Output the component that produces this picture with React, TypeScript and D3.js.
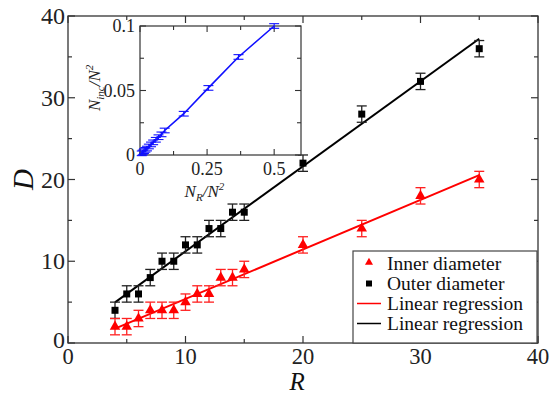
import React from "react";
import * as d3 from "d3";

const radii = [4, 5, 6, 7, 8, 9, 10, 11, 12, 13, 14, 15, 20, 25, 30, 35];
const outerD = [4, 6, 6, 8, 10, 10, 12, 12, 14, 14, 16, 16, 22, 28, 32, 36];
const innerD = [2, 2, 3, 4, 4, 4, 5, 6, 6, 8, 8, 9, 12, 14, 18, 20];
const errD = 1;

const insetX = [0.0065, 0.0102, 0.0147, 0.02, 0.026, 0.033, 0.041, 0.049, 0.059, 0.069, 0.08, 0.092, 0.163, 0.255, 0.367, 0.5];
const insetY = [0.0013, 0.002, 0.003, 0.004, 0.005, 0.0066, 0.0082, 0.0098, 0.0118, 0.0138, 0.016, 0.019, 0.032, 0.052, 0.076, 0.1];
const insetErr = 0.0018;

const xTicks = [0, 10, 20, 30, 40];
const yTicks = [0, 10, 20, 30, 40];
const insetXTicks = [0, 0.25, 0.5];
const insetYTicks = [0, 0.05, 0.1];

const legendItems = ["Inner diameter", "Outer diameter", "Linear regression", "Linear regression"];

const font = '"Liberation Serif", "DejaVu Serif", serif';
const tf = { fontFamily: font, fontStyle: "normal", fontWeight: 400 };
const tfi = { fontFamily: font, fontStyle: "italic" };

function regress(xs: number[], ys: number[]) {
  const mx = d3.mean(xs)!;
  const my = d3.mean(ys)!;
  const sxy = d3.sum(xs, (x, i) => (x - mx) * (ys[i] - my));
  const sxx = d3.sum(xs, (x) => (x - mx) ** 2);
  const slope = sxy / sxx;
  return { slope, intercept: my - slope * mx };
}

export default function App() {
  const x = d3.scaleLinear().domain([0, 40]).range([68, 538]);
  const y = d3.scaleLinear().domain([0, 40]).range([343, 16]);
  const ix = d3.scaleLinear().domain([0, 0.6]).range([140, 301]);
  const iy = d3.scaleLinear().domain([0, 0.1]).range([155, 26]);

  const fits = [
    { ys: innerD, color: "#ff0000" },
    { ys: outerD, color: "#000000" },
  ].map((s) => {
    const r = regress(radii, s.ys);
    const x0 = d3.min(radii)!;
    const x1 = d3.max(radii)!;
    return { ...s, x0, x1, y0: r.intercept + r.slope * x0, y1: r.intercept + r.slope * x1 };
  });

  const minorX = d3.range(0, 41, 5);
  const minorY = d3.range(0, 41, 5);
  const inMinorX = d3.range(0, 0.61, 0.125);
  const inMinorY = d3.range(0, 0.101, 0.025);

  const cap = 5;
  const tri = d3.symbol(d3.symbolTriangle, 48)()!;
  const insetLine = d3
    .line<number>()
    .x((d) => ix(d))
    .y((_, i) => iy(insetY[i]));

  const [x0px, x1px] = x.range();
  const [y0px, y1px] = y.range();

  return (
    <svg width={559} height={394} style={{ position: "absolute", left: 0, top: 0, fontFamily: font }}>
      <rect width={559} height={394} fill="#fff" />
      {/* frame */}
      <rect x={x0px} y={y1px} width={x1px - x0px} height={y0px - y1px} fill="none" stroke="#333" strokeWidth={1.3} />
      {minorX.map((t) => {
        const len = t % 10 === 0 ? 7 : 4;
        return (
          <g key={"mx" + t} stroke="#333" strokeWidth={1.2}>
            <line x1={x(t)} x2={x(t)} y1={y0px} y2={y0px - len} />
            <line x1={x(t)} x2={x(t)} y1={y1px} y2={y1px + len} />
          </g>
        );
      })}
      {minorY.map((t) => {
        const len = t % 10 === 0 ? 7 : 4;
        return (
          <g key={"my" + t} stroke="#333" strokeWidth={1.2}>
            <line x1={x0px} x2={x0px + len} y1={y(t)} y2={y(t)} />
            <line x1={x1px} x2={x1px - len} y1={y(t)} y2={y(t)} />
          </g>
        );
      })}
      {xTicks.map((t) => (
        <text key={"xt" + t} x={x(t)} y={364} fontSize={22.5} textAnchor="middle" fill="#222" style={tf}>
          {t}
        </text>
      ))}
      {yTicks.map((t) => (
        <text key={"yt" + t} x={65} y={y(t) + (t === 0 ? 5 : 8)} fontSize={24} textAnchor="end" fill="#222" style={tf}>
          {t}
        </text>
      ))}
      <text x={x(19.5)} y={389.5} fontSize={25} textAnchor="middle" fill="#111" style={tfi}>
        R
      </text>
      <text transform={`translate(33,${y(20)}) rotate(-90)`} fontSize={29} textAnchor="middle" fill="#111" style={tfi}>
        D
      </text>

      {/* regression lines */}
      {fits.map((f, i) => (
        <line key={"fit" + i} x1={x(f.x0)} y1={y(f.y0)} x2={x(f.x1)} y2={y(f.y1)} stroke={f.color} strokeWidth={2} />
      ))}

      {/* error bars and markers */}
      {radii.map((r, i) => (
        <g key={"o" + r} stroke="#222" strokeWidth={1.3}>
          <line x1={x(r)} x2={x(r)} y1={y(outerD[i] - errD)} y2={y(outerD[i] + errD)} />
          <line x1={x(r) - cap} x2={x(r) + cap} y1={y(outerD[i] - errD)} y2={y(outerD[i] - errD)} />
          <line x1={x(r) - cap} x2={x(r) + cap} y1={y(outerD[i] + errD)} y2={y(outerD[i] + errD)} />
          <rect x={x(r) - 3.5} y={y(outerD[i]) - 3.5} width={7} height={7} fill="#000" stroke="none" />
        </g>
      ))}
      {radii.map((r, i) => (
        <g key={"in" + r} stroke="#ff2020" strokeWidth={1.3}>
          <line x1={x(r)} x2={x(r)} y1={y(innerD[i] - errD)} y2={y(innerD[i] + errD)} />
          <line x1={x(r) - cap} x2={x(r) + cap} y1={y(innerD[i] - errD)} y2={y(innerD[i] - errD)} />
          <line x1={x(r) - cap} x2={x(r) + cap} y1={y(innerD[i] + errD)} y2={y(innerD[i] + errD)} />
          <path d={tri} transform={`translate(${x(r)},${y(innerD[i])})`} fill="#ff0000" stroke="none" />
        </g>
      ))}

      {/* inset */}
      <rect x={140} y={26} width={161} height={129} fill="#fff" stroke="#333" strokeWidth={1.2} />
      {inMinorX.map((t, k) => {
        const len = k % 2 === 0 ? 6 : 4;
        return (
          <g key={"imx" + k} stroke="#333" strokeWidth={1.1}>
            <line x1={ix(t)} x2={ix(t)} y1={155} y2={155 - len} />
            <line x1={ix(t)} x2={ix(t)} y1={26} y2={26 + len} />
          </g>
        );
      })}
      {inMinorY.map((t, k) => {
        const len = k % 2 === 0 ? 6 : 4;
        return (
          <g key={"imy" + k} stroke="#333" strokeWidth={1.1}>
            <line x1={140} x2={140 + len} y1={iy(t)} y2={iy(t)} />
            <line x1={301} x2={301 - len} y1={iy(t)} y2={iy(t)} />
          </g>
        );
      })}
      {insetXTicks.map((t) => (
        <text key={"ixt" + t} x={ix(t)} y={175} fontSize={18} textAnchor="middle" fill="#222" style={tf}>
          {t}
        </text>
      ))}
      {insetYTicks.map((t) => (
        <text key={"iyt" + t} x={135} y={iy(t) + 6} fontSize={18} textAnchor="end" fill="#222" style={tf}>
          {t}
        </text>
      ))}
      <text x={ix(0.24)} y={197} fontSize={17} textAnchor="middle" fill="#222" style={tfi}>
        N<tspan fontSize={11} dy={4}>R</tspan>
        <tspan dy={-4}>/N</tspan>
        <tspan fontSize={11} dy={-7}>2</tspan>
      </text>
      <text transform={`translate(100,${iy(0.052)}) rotate(-90)`} fontSize={17} textAnchor="middle" fill="#222" style={tfi}>
        N<tspan fontSize={11} dy={4}>inc</tspan>
        <tspan dy={-4}>/N</tspan>
        <tspan fontSize={11} dy={-7}>2</tspan>
      </text>
      <path d={insetLine(insetX)!} fill="none" stroke="#1010ff" strokeWidth={1.6} />
      {insetX.map((v, i) => (
        <g key={"ie" + i} stroke="#1010ff" strokeWidth={1.1}>
          <line x1={ix(v)} x2={ix(v)} y1={iy(insetY[i] - insetErr)} y2={iy(insetY[i] + insetErr)} />
          <line x1={ix(v) - 5} x2={ix(v) + 5} y1={iy(insetY[i] - insetErr)} y2={iy(insetY[i] - insetErr)} />
          <line x1={ix(v) - 5} x2={ix(v) + 5} y1={iy(insetY[i] + insetErr)} y2={iy(insetY[i] + insetErr)} />
        </g>
      ))}

      {/* legend */}
      <rect x={353} y={251} width={184} height={92} fill="#fff" stroke="#444" strokeWidth={1.2} />
      {legendItems.map((label, i) => {
        const cy = 263.5 + i * 20;
        return (
          <g key={"lg" + i}>
            {i === 0 && <path d={d3.symbol(d3.symbolTriangle, 28)()!} transform={`translate(369,${cy - 1})`} fill="#ff0000" />}
            {i === 1 && <rect x={366} y={cy - 3} width={6} height={6} fill="#000" />}
            {i >= 2 && <line x1={357} x2={381} y1={cy} y2={cy} stroke={i === 2 ? "#ff0000" : "#000"} strokeWidth={1.5} />}
            <text x={387} y={cy + 6.5} fontSize={19.5} fill="#111" style={tf}>
              {label}
            </text>
          </g>
        );
      })}
    </svg>
  );
}
